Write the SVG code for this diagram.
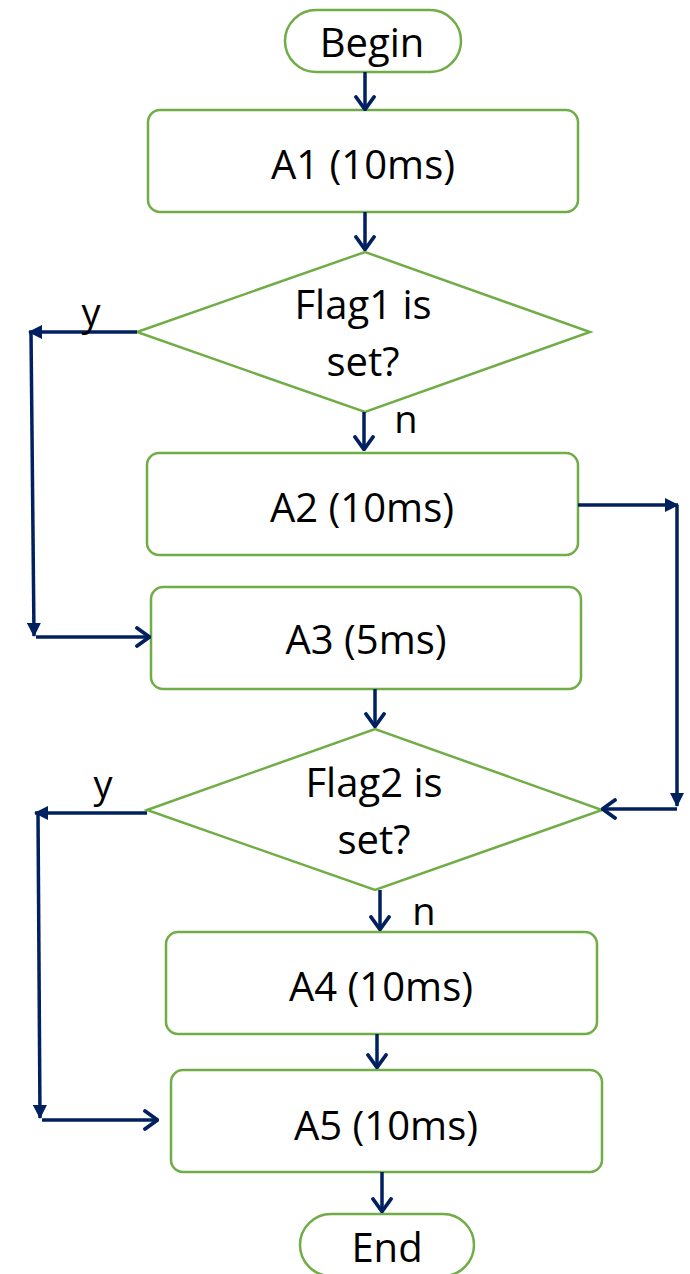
<svg xmlns="http://www.w3.org/2000/svg" width="690" height="1274" viewBox="0 0 690 1274">
  <defs>
    <style>
      .box { fill: #ffffff; stroke: #70AD47; stroke-width: 2.5; }
      .lbl { font-family: "Open Sans", "Liberation Sans", sans-serif; font-size: 40px; fill: #000000; text-anchor: middle; }
      .yn { font-family: "Open Sans", "Liberation Sans", sans-serif; font-size: 38px; fill: #000000; text-anchor: middle; }
      .wire { fill: none; stroke: #002060; stroke-width: 3.5; }
    </style>
    <marker id="open" viewBox="0 0 16 22" refX="15" refY="11" markerWidth="16" markerHeight="22" markerUnits="userSpaceOnUse" orient="auto">
      <path d="M2,2 L14.5,11 L2,20" fill="none" stroke="#002060" stroke-width="3.8" stroke-linecap="round" stroke-linejoin="round"/>
    </marker>
    <marker id="solid" viewBox="0 0 14 14" refX="13" refY="7" markerWidth="14" markerHeight="14" markerUnits="userSpaceOnUse" orient="auto">
      <path d="M0,0 L14,7 L0,14 Z" fill="#002060"/>
    </marker>
  </defs>

  <!-- process nodes -->
  <g id="begin">
    <rect class="box" x="285" y="10" width="176" height="62" rx="31"/>
    <text class="lbl" x="372" y="57">Begin</text>
  </g>
  <g id="a1">
    <rect class="box" x="148" y="110" width="430" height="102" rx="12"/>
    <text class="lbl" x="363" y="179">A1 (10ms)</text>
  </g>
  <g id="flag1">
    <polygon class="box" points="137,332 365,252 590,332 365,412"/>
    <text class="lbl" x="363" y="319">Flag1 is</text>
    <text class="lbl" x="363" y="376">set?</text>
  </g>
  <g id="a2">
    <rect class="box" x="147" y="453" width="431" height="102" rx="12"/>
    <text class="lbl" x="362" y="522">A2 (10ms)</text>
  </g>
  <g id="a3">
    <rect class="box" x="151" y="587" width="430" height="102" rx="12"/>
    <text class="lbl" x="366" y="654">A3 (5ms)</text>
  </g>
  <g id="flag2">
    <polygon class="box" points="147,810 375,729 602,810 375,890"/>
    <text class="lbl" x="374" y="797">Flag2 is</text>
    <text class="lbl" x="374" y="854">set?</text>
  </g>
  <g id="a4">
    <rect class="box" x="166" y="932" width="431" height="102" rx="12"/>
    <text class="lbl" x="381" y="1001">A4 (10ms)</text>
  </g>
  <g id="a5">
    <rect class="box" x="171" y="1070" width="431" height="102" rx="12"/>
    <text class="lbl" x="386" y="1140">A5 (10ms)</text>
  </g>
  <g id="end">
    <rect class="box" x="300" y="1214" width="174" height="62" rx="31"/>
    <text class="lbl" x="387" y="1262">End</text>
  </g>

  <!-- connectors -->
  <g id="connectors">
    <line class="wire" x1="365" y1="72" x2="365" y2="110" marker-end="url(#open)"/>
    <line class="wire" x1="365" y1="212" x2="365" y2="250" marker-end="url(#open)"/>
    <line class="wire" x1="364" y1="412" x2="364" y2="450" marker-end="url(#open)"/>
    <line class="wire" x1="375" y1="689" x2="375" y2="727" marker-end="url(#open)"/>
    <line class="wire" x1="380" y1="890" x2="380" y2="930" marker-end="url(#open)"/>
    <line class="wire" x1="377" y1="1034" x2="377" y2="1068" marker-end="url(#open)"/>
    <line class="wire" x1="382" y1="1172" x2="382" y2="1212" marker-end="url(#open)"/>

    <!-- Flag1 yes branch to A3 -->
    <line class="wire" x1="137" y1="332" x2="29" y2="332" marker-end="url(#solid)"/>
    <line class="wire" x1="31" y1="332" x2="34" y2="636" marker-end="url(#solid)"/>
    <line class="wire" x1="36" y1="637" x2="150" y2="637" marker-end="url(#open)"/>

    <!-- A2 to Flag2 -->
    <line class="wire" x1="578" y1="505" x2="678" y2="505" marker-end="url(#solid)"/>
    <line class="wire" x1="677" y1="505" x2="677" y2="806" marker-end="url(#solid)"/>
    <line class="wire" x1="677" y1="809" x2="602" y2="809" marker-end="url(#open)"/>

    <!-- Flag2 yes branch to A5 -->
    <line class="wire" x1="147" y1="813" x2="35" y2="813" marker-end="url(#solid)"/>
    <line class="wire" x1="38" y1="813" x2="40" y2="1118" marker-end="url(#solid)"/>
    <line class="wire" x1="42" y1="1120" x2="158" y2="1120" marker-end="url(#open)"/>

    <text class="yn" x="91" y="326">y</text>
    <text class="yn" x="406" y="433">n</text>
    <text class="yn" x="103" y="798">y</text>
    <text class="yn" x="424" y="925">n</text>
  </g>
</svg>
